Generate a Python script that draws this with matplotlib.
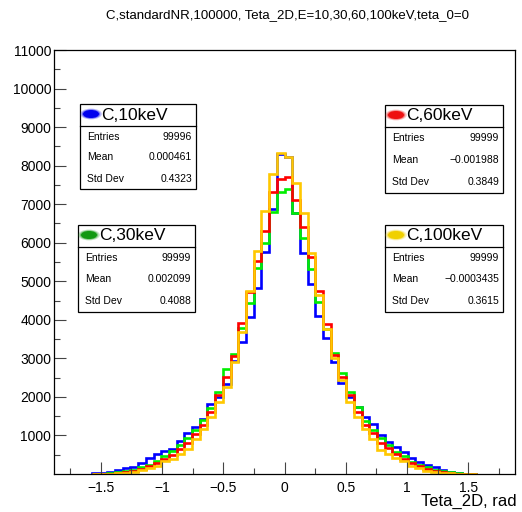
from __future__ import annotations

import matplotlib

matplotlib.use("Agg")
import matplotlib.pyplot as plt
import numpy as np
from matplotlib.patches import Ellipse, Rectangle

plt.rcParams["font.family"] = ["Liberation Sans", "DejaVu Sans"]

W, H = 522, 512

# 50 bins over [-pi/2, pi/2] (left to right)
n_bins = 50
counts_10kev = [
    15, 35, 60, 104, 147, 190, 277, 406, 510, 605,
    648, 860, 1072, 1228, 1418, 1816, 2000, 2326, 2931, 3432,
    4081, 4832, 5767, 6874, 8300, 8230, 6768, 5724, 4929, 4100,
    3519, 2897, 2352, 2000, 1746, 1470, 1297, 1012, 822, 709,
    579, 406, 303, 233, 173, 112, 60, 35, 9, 2,
]
counts_30kev = [
    1, 6, 20, 45, 75, 115, 175, 240, 330, 470,
    600, 760, 930, 1150, 1400, 1700, 2118, 2715, 3104, 3786,
    4427, 5335, 6000, 6805, 7307, 7385, 6779, 6130, 5318, 4450,
    3750, 3148, 2628, 2118, 1729, 1383, 1141, 926, 752, 579,
    467, 320, 233, 173, 112, 75, 43, 20, 5, 1,
]
counts_60kev = [
    1, 3, 10, 25, 50, 85, 140, 200, 280, 390,
    500, 650, 800, 1040, 1280, 1600, 2049, 2525, 3050, 3908,
    4729, 5534, 6312, 7324, 7644, 7696, 7108, 6416, 5638, 4750,
    3900, 3088, 2525, 2049, 1617, 1271, 1055, 796, 666, 519,
    400, 280, 200, 140, 78, 50, 25, 10, 3, 1,
]
counts_100kev = [
    1, 4, 10, 20, 35, 60, 95, 160, 220, 330,
    400, 520, 650, 900, 1159, 1470, 1876, 2265, 2900, 3692,
    4755, 5785, 6822, 7782, 8319, 8215, 7540, 6780, 5725, 4643,
    3750, 3000, 2438, 1876, 1470, 1159, 900, 623, 519, 406,
    346, 208, 164, 87, 60, 35, 20, 10, 4, 1,
]

series_names = ["C,10keV", "C,30keV", "C,60keV", "C,100keV"]
series_colors = ["#0000ff", "#00ee00", "#ff0000", "#ffc800"]
marker_colors = ["#0000ee", "#119911", "#ee1111", "#f0d000"]
entries = ["99996", "99999", "99999", "99999"]
means = ["0.000461", "0.002099", "\u22120.001988", "\u22120.0003435"]
std_devs = ["0.4323", "0.4088", "0.3849", "0.3615"]

title = "C,standardNR,100000, Teta_2D,E=10,30,60,100keV,teta_0=0"
x_label = "Teta_2D, rad"
x_ticks = [-1.5, -1, -0.5, 0, 0.5, 1, 1.5]
y_ticks = list(range(1000, 11001, 1000))


def fx(px: float) -> float:
    return px / W


def fy(py: float) -> float:
    return 1 - py / H


def stat_box(fig, x0, y0, w, h, head, color, rows) -> None:
    fig.add_artist(Rectangle((fx(x0), fy(y0 + h)), w / W, h / H,
                             transform=fig.transFigure, facecolor="white",
                             edgecolor="black", linewidth=0.9, zorder=5))
    head_h = 22
    fig.add_artist(plt.Line2D([fx(x0), fx(x0 + w)], [fy(y0 + head_h)] * 2,
                              transform=fig.transFigure, color="black",
                              linewidth=0.9, zorder=6))
    # blurry legend blob
    for k, a in [(1.35, 0.25), (1.15, 0.45), (1.0, 1.0)]:
        fig.add_artist(Ellipse((fx(x0 + 11), fy(y0 + 10)), 16 * k / W, 8 * k / H,
                               transform=fig.transFigure, facecolor=color,
                               edgecolor="none", alpha=a, zorder=6))
    fig.text(fx(x0 + 21), fy(y0 + 11), head, fontsize=12.5, ha="left",
             va="center", zorder=7)
    row_h = (h - head_h) / 3
    for i, (lab, val) in enumerate(rows):
        yc = y0 + head_h + (i + 0.5) * row_h
        fig.text(fx(x0 + 7), fy(yc), lab, fontsize=7.5, ha="left", va="center", zorder=7)
        fig.text(fx(x0 + w - 4), fy(yc), val, fontsize=7.5, ha="right", va="center", zorder=7)


fig = plt.figure(figsize=(W / 100, H / 100), dpi=100)
ax = fig.add_axes([fx(54), fy(474), (515 - 54) / W, (474 - 50) / H])

edges = np.linspace(-np.pi / 2, np.pi / 2, n_bins + 1)
for vals, col in zip([counts_10kev, counts_30kev, counts_60kev, counts_100kev], series_colors):
    ax.stairs(vals, edges, color=col, linewidth=1.9, baseline=0)

ax.set_xlim(-1.88, 1.88)
ax.set_ylim(0, 11000)
ax.set_xticks(x_ticks)
ax.set_xticklabels(["\u22121.5", "\u22121", "\u22120.5", "0", "0.5", "1", "1.5"])
ax.set_xticks(np.arange(-1.75, 1.76, 0.25), minor=True)
ax.set_yticks(y_ticks)
ax.set_yticklabels([str(v) for v in y_ticks])
ax.set_yticks(np.arange(500, 11000, 1000), minor=True)
ax.tick_params(axis="both", which="both", direction="in", top=False, right=False,
               labelsize=10, width=0.8, color="#444444")
ax.tick_params(axis="both", which="major", length=8.5)
ax.tick_params(axis="both", which="minor", length=4.5)
ax.tick_params(axis="x", pad=5)
ax.tick_params(axis="y", pad=2)
for s in ax.spines.values():
    s.set_linewidth(0.9)

fig.text(fx(287), fy(15), title, fontsize=9.5, ha="center", va="center")
fig.text(fx(517), fy(501), x_label, fontsize=12, ha="right", va="center")

boxes = [(80, 104, 116, 85), (78, 225, 117, 87), (385, 105, 118, 88), (385, 225, 118, 87)]
for (x0, y0, w, h), name, mcol, ent, mean, sd in zip(boxes, series_names, marker_colors,
                                                    entries, means, std_devs):
    stat_box(fig, x0, y0, w, h, name, mcol,
             [("Entries", ent), ("Mean", mean), ("Std Dev", sd)])

fig.savefig("out.png", dpi=100)
